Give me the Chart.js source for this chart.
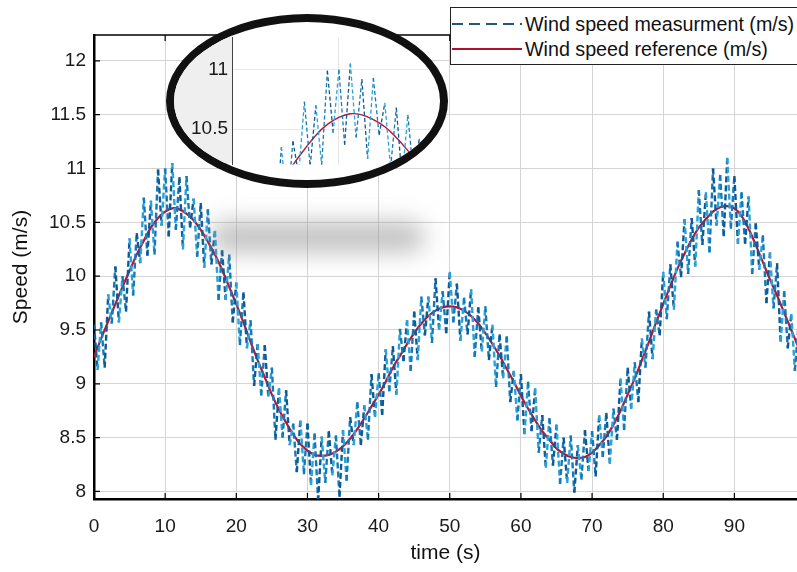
<!DOCTYPE html>
<html>
<head>
<meta charset="utf-8">
<script src="https://cdn.jsdelivr.net/npm/chart.js@4.4.0/dist/chart.umd.min.js"></script>
<style>
html, body { margin: 0; padding: 0; background: #fff; }
#wrap { position: relative; width: 797px; height: 572px; overflow: hidden; font-family: "Liberation Sans", Arial, sans-serif; }
#main { position: absolute; left: 0; top: 0; }
#shadow { position: absolute; left: 210px; top: 222px; width: 215px; height: 30px; background: rgba(140,140,140,0.55); border-radius: 15px; filter: blur(12px); pointer-events: none; }
#lens { position: absolute; left: 166px; top: 14px; width: 282px; height: 174px; box-sizing: border-box; border: 8px solid #111; border-radius: 50%; overflow: hidden; background: #fff; }
#lens canvas { position: absolute; left: 0; top: 0; }
#legend { position: absolute; left: 450px; top: 7px; width: 360px; height: 58px; box-sizing: border-box; border: 1.5px solid #222; background: #fff; font-size: 19.7px; color: #111; }
.row { position: absolute; left: 1px; height: 24px; display: flex; align-items: center; white-space: nowrap; }
.row svg { margin-right: 3px; }
</style>
</head>
<body>
<div id="wrap">
  <canvas id="main" width="797" height="572"></canvas>
  <div id="shadow"></div>
  <div id="lens"><canvas id="inset" width="266" height="158"></canvas></div>
  <div id="legend">
    <div class="row" style="top:4px"><svg width="70" height="6"><line x1="0" y1="3" x2="70" y2="3" stroke="#1f5878" stroke-width="2" stroke-dasharray="11 6"/></svg><span id="lab0"></span></div>
    <div class="row" style="top:29px"><svg width="70" height="6"><line x1="0" y1="3" x2="70" y2="3" stroke="#b01030" stroke-width="2"/></svg><span id="lab1"></span></div>
  </div>
</div>
<script>
// series names
const seriesNames = ['Wind speed measurment (m/s)', 'Wind speed reference (m/s)'];

// measurement, one sample every 0.5 s from t = 0
const measStep = 0.5;
const measured = [
  9.55, 9.13, 9.57, 9.15, 9.83, 9.56, 10.09, 9.57, 10.0, 9.67,
  10.35, 9.82, 10.4, 10.12, 10.73, 10.19, 10.7, 10.2, 10.99, 10.47,
  11.0, 10.37, 11.05, 10.43, 10.92, 10.25, 10.93, 10.45, 10.72, 10.18,
  10.68, 10.08, 10.62, 10.11, 10.42, 9.78, 10.24, 9.78, 10.2, 9.57,
  9.94, 9.36, 9.85, 9.33, 9.59, 8.98, 9.37, 8.89, 9.36, 8.88,
  9.15, 8.48, 8.96, 8.5, 8.94, 8.43, 8.63, 8.18, 8.66, 8.16,
  8.63, 8.06, 8.54, 7.91, 8.51, 8.08, 8.56, 8.15, 8.52, 7.95,
  8.57, 8.1, 8.69, 8.43, 8.83, 8.43, 8.8, 8.48, 9.09, 8.69,
  9.1, 8.71, 9.32, 8.93, 9.35, 8.9, 9.51, 9.21, 9.59, 9.12,
  9.67, 9.22, 9.81, 9.45, 9.81, 9.38, 9.98, 9.5, 9.86, 9.47,
  10.04, 9.57, 9.93, 9.4, 9.8, 9.46, 9.88, 9.25, 9.71, 9.3,
  9.72, 9.22, 9.55, 8.97, 9.46, 9.05, 9.44, 8.83, 9.12, 8.66,
  9.09, 8.53, 9.02, 8.56, 8.96, 8.36, 8.71, 8.22, 8.68, 8.24,
  8.62, 8.07, 8.5, 8.08, 8.52, 7.99, 8.43, 8.11, 8.57, 8.19,
  8.56, 8.14, 8.71, 8.32, 8.73, 8.26, 8.77, 8.48, 9.05, 8.57,
  9.15, 8.77, 9.2, 8.83, 9.42, 9.15, 9.67, 9.23, 9.69, 9.45,
  10.04, 9.6, 10.11, 9.69, 10.32, 9.99, 10.53, 10.02, 10.54, 10.09,
  10.8, 10.29, 10.78, 10.22, 11.0, 10.47, 10.94, 10.37, 11.1, 10.44,
  10.93, 10.3, 10.78, 10.3, 10.74, 10.02, 10.49, 10.06, 10.38, 9.75,
  10.22, 9.7, 10.12, 9.39, 9.86, 9.33, 9.65, 9.12, 9.54
];

// reference, one sample per second from t = 0
const refStep = 1;
const reference = [
  9.25, 9.42, 9.58, 9.74, 9.9, 10.05, 10.2, 10.33, 10.45, 10.54,
  10.6, 10.63, 10.62, 10.58, 10.52, 10.43, 10.32, 10.2, 10.06, 9.9,
  9.74, 9.57, 9.39, 9.22, 9.06, 8.9, 8.76, 8.64, 8.53, 8.44,
  8.38, 8.34, 8.33, 8.34, 8.37, 8.42, 8.49, 8.58, 8.68, 8.79,
  8.9, 9.02, 9.15, 9.26, 9.37, 9.47, 9.56, 9.63, 9.68, 9.71,
  9.72, 9.71, 9.68, 9.63, 9.56, 9.47, 9.37, 9.26, 9.14, 9.02,
  8.89, 8.77, 8.66, 8.56, 8.48, 8.4, 8.35, 8.32, 8.31, 8.32,
  8.36, 8.43, 8.51, 8.62, 8.75, 8.9, 9.05, 9.22, 9.39, 9.57,
  9.74, 9.91, 10.07, 10.21, 10.34, 10.45, 10.53, 10.6, 10.64, 10.65,
  10.63, 10.56, 10.44, 10.29, 10.13, 9.97, 9.82, 9.66, 9.5, 9.34
];

const xTicks = [0, 10, 20, 30, 40, 50, 60, 70, 80, 90];
const yTicks = [8, 8.5, 9, 9.5, 10, 10.5, 11, 11.5, 12];
const insetXTicks = [10];
const insetYTicks = [10.5, 11];

document.getElementById('lab0').textContent = seriesNames[0];
document.getElementById('lab1').textContent = seriesNames[1];

const measColors = ['#0d5a94', '#27a3da', '#1479b8'];
const toPts = (arr, step) => arr.map((v, i) => ({ x: i * step, y: v }));
const font = { family: '"Liberation Sans", Arial, sans-serif', size: 19 };

function datasets(w) {
  return [
    {
      label: seriesNames[0],
      data: toPts(measured, measStep),
      borderColor: '#1479b8',
      borderWidth: w,
      borderDash: w > 1.5 ? [6, 3] : [4, 2.5],
      pointRadius: 0,
      tension: 0,
      segment: { borderColor: c => measColors[c.p0DataIndex % 3] }
    },
    {
      label: seriesNames[1],
      data: toPts(reference, refStep),
      borderColor: '#b5153a',
      borderWidth: w > 1.5 ? 2.2 : 1.4,
      pointRadius: 0,
      tension: 0.4
    }
  ];
}

// matlab style box: top edge and inward tick marks
const frame = {
  id: 'frame',
  afterDraw(chart) {
    const { ctx, chartArea: a, scales: { x, y } } = chart;
    ctx.save();
    ctx.strokeStyle = '#000';
    ctx.lineWidth = 1.6;
    ctx.beginPath();
    ctx.moveTo(a.left, a.top);
    ctx.lineTo(a.right, a.top);
    ctx.stroke();
    ctx.lineWidth = 1.2;
    ctx.beginPath();
    xTicks.forEach(v => {
      const px = x.getPixelForValue(v);
      ctx.moveTo(px, a.bottom); ctx.lineTo(px, a.bottom - 6);
      ctx.moveTo(px, a.top); ctx.lineTo(px, a.top + 6);
    });
    yTicks.forEach(v => {
      const py = y.getPixelForValue(v);
      ctx.moveTo(a.left, py); ctx.lineTo(a.left + 6, py);
    });
    ctx.stroke();
    ctx.restore();
  }
};

const mainChart = new Chart(document.getElementById('main'), {
  type: 'line',
  data: { datasets: datasets(2.4) },
  options: {
    responsive: false,
    animation: false,
    devicePixelRatio: 1,
    layout: { padding: { top: 35, right: 0, left: 0, bottom: 0 } },
    plugins: { legend: { display: false }, tooltip: { enabled: false } },
    scales: {
      x: {
        type: 'linear', min: 0, max: 98.8,
        afterFit: s => { s.height = 73; },
        afterBuildTicks: s => { s.ticks = xTicks.map(v => ({ value: v })); },
        ticks: { font, color: '#1a1a1a', padding: 16, maxRotation: 0, callback: v => String(v) },
        grid: { color: '#d4d4d4', drawTicks: false },
        border: { color: '#000', width: 2.5 },
        title: { display: true, text: 'time (s)', color: '#111', font: { family: font.family, size: 21 }, padding: { top: 0, bottom: 6 } }
      },
      y: {
        type: 'linear', min: 7.93, max: 12.24,
        afterFit: s => { s.width = 94; },
        afterBuildTicks: s => { s.ticks = yTicks.map(v => ({ value: v })); },
        ticks: { font, color: '#1a1a1a', padding: 8, callback: v => String(v) },
        grid: { color: '#d4d4d4', drawTicks: false },
        border: { color: '#000', width: 2.5 },
        title: { display: true, text: 'Speed (m/s)', color: '#111', font: { family: font.family, size: 21 }, padding: { top: 9, bottom: 0 } }
      }
    }
  },
  plugins: [frame]
});

// gray figure area left of the zoomed axes
const insetBack = {
  id: 'insetBack',
  beforeDraw(chart) {
    const { ctx, chartArea: a } = chart;
    ctx.save();
    ctx.fillStyle = '#efefef';
    ctx.fillRect(0, 0, a.left, 141);
    ctx.restore();
  }
};

const insetChart = new Chart(document.getElementById('inset'), {
  type: 'line',
  data: { datasets: datasets(1.3) },
  options: {
    responsive: false,
    animation: false,
    devicePixelRatio: 1,
    layout: { padding: 0 },
    plugins: { legend: { display: false }, tooltip: { enabled: false } },
    scales: {
      x: {
        type: 'linear', min: 0.7, max: 18.8,
        afterFit: s => { s.height = 0; },
        afterBuildTicks: s => { s.ticks = insetXTicks.map(v => ({ value: v })); },
        ticks: { display: false },
        grid: { color: '#e4e4e4', drawTicks: false },
        border: { display: false }
      },
      y: {
        type: 'linear', min: 10.203, max: 11.27,
        afterFit: s => { s.width = 58; },
        afterBuildTicks: s => { s.ticks = insetYTicks.map(v => ({ value: v })); },
        ticks: { font, color: '#1a1a1a', padding: 4, callback: v => String(v) },
        grid: { color: '#e8e8e8', drawTicks: false },
        border: { color: '#444', width: 1 }
      }
    }
  },
  plugins: [insetBack]
});
</script>
</body>
</html>
